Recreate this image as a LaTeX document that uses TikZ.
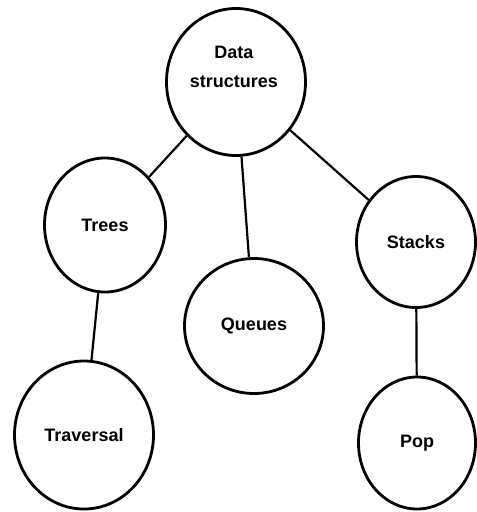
\documentclass[tikz,border=0pt]{standalone}
\usepackage{fontspec}
\setmainfont{Liberation Sans}
\usetikzlibrary{shapes.geometric}
\begin{document}
\begin{tikzpicture}[x=1pt,y=-1pt,
    topic/.style={draw,ellipse,line width=2.8pt,inner sep=0pt,
        font=\bfseries\fontsize{18}{29}\selectfont,align=center},
    link/.style={line width=2.2pt}]
    \useasboundingbox (0,0) rectangle (477,512);
    % circles
    \node[topic,minimum width=139pt,minimum height=147pt] (ds) at (236,82) {};
    \node[font=\bfseries\fontsize{18}{29}\selectfont,align=center] (dstext) at (234,67) {Data\\structures};
    \node[topic,minimum width=121pt,minimum height=134pt] (trees) at (105,225) {Trees};
    \node[topic,minimum width=139pt,minimum height=135pt] (queues) at (254,326) {Queues};
    \node[topic,minimum width=119pt,minimum height=131pt] (stacks) at (416,242) {Stacks};
    \node[topic,minimum width=139pt,minimum height=148pt] (traversal) at (84,435) {Traversal};
    \node[topic,minimum width=117pt,minimum height=132pt] (pop) at (417,443) {Pop};
    % links
    \draw[link] (ds) -- (trees);
    \draw[link] (ds) -- (queues);
    \draw[link] (ds) -- (stacks);
    \draw[link] (trees) -- (traversal);
    \draw[link] (stacks) -- (pop);
\end{tikzpicture}
\end{document}
